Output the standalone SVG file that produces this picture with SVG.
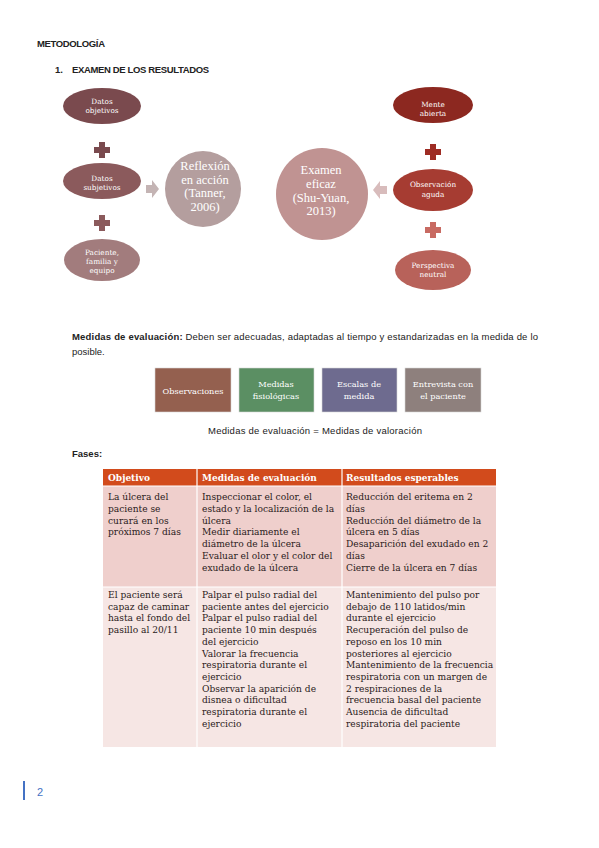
<svg xmlns="http://www.w3.org/2000/svg" width="599" height="848" viewBox="0 0 599 848">
<style>
.h{font-family:"Liberation Sans",Arial,sans-serif;font-weight:bold;font-size:9.5px;fill:#222}
.b{font-family:"Liberation Sans",Arial,sans-serif;font-size:9.5px;fill:#222}
.s{font-family:"DejaVu Serif",serif;fill:#fff;text-anchor:middle}
.e{font-size:7.3px}
.c{font-family:"Liberation Serif",serif;font-size:12.5px}
.m{font-size:8.2px}
.t{font-family:"DejaVu Serif",serif;font-size:9.1px;fill:#2a2020}
.th{font-family:"DejaVu Serif",serif;font-size:9px;font-weight:bold;fill:#fff}
</style>
<defs>
<path id="plus" d="M-3,-8 H3 V-3 H8 V3 H3 V8 H-3 V3 H-8 V-3 H-3 Z"/>
</defs>
<rect width="599" height="848" fill="#fff"/>
<text class="h" x="37" y="47" textLength="68">METODOLOGÍA</text>
<text class="h" x="55" y="73">1.</text>
<text class="h" x="72" y="73" textLength="137">EXAMEN DE LOS RESULTADOS</text>

<g id="connectors">
<use href="#plus" x="102" y="150" fill="#7a4a4e"/>
<use href="#plus" x="102" y="223" fill="#8b5a5c"/>
<use href="#plus" x="433" y="152" fill="#9e2c24"/>
<use href="#plus" x="433" y="230" fill="#c86a62"/>
<path d="M146,185 H152 V180 L159,189 L152,198 V193 H146 Z" fill="#c4b4b4"/>
<path d="M387,186 H380 V181 L373,190 L380,199 V194 H387 Z" fill="#d8bcbc"/>
</g>

<g id="datos-objetivos"><ellipse cx="102" cy="106" rx="39" ry="18" fill="#7a4a4e"/><text class="s e" x="102" y="104">Datos</text><text class="s e" x="102" y="113">objetivos</text></g>
<g id="datos-subjetivos"><ellipse cx="102" cy="181" rx="39" ry="18" fill="#8b5a5c"/><text class="s e" x="102" y="181">Datos</text><text class="s e" x="102" y="190">subjetivos</text></g>
<g id="paciente"><ellipse cx="102" cy="260" rx="38" ry="21" fill="#a27c7d"/><text class="s e" x="102" y="255">Paciente,</text><text class="s e" x="102" y="264">familia y</text><text class="s e" x="102" y="273">equipo</text></g>
<g id="reflexion"><circle cx="203" cy="189" r="38" fill="#b49e9e"/><text class="s c" x="205" y="170">Reflexión</text><text class="s c" x="205" y="183.5">en acción</text><text class="s c" x="205" y="197">(Tanner,</text><text class="s c" x="205" y="210.5">2006)</text></g>
<g id="examen"><circle cx="322" cy="194" r="46" fill="#c09392"/><text class="s c" x="321" y="174">Examen</text><text class="s c" x="321" y="188">eficaz</text><text class="s c" x="321" y="202">(Shu-Yuan,</text><text class="s c" x="321" y="215">2013)</text></g>
<g id="mente"><ellipse cx="433" cy="105" rx="40" ry="18" fill="#8c2820"/><text class="s e" x="433" y="107">Mente</text><text class="s e" x="433" y="116">abierta</text></g>
<g id="observacion"><ellipse cx="433" cy="190" rx="40" ry="21" fill="#a63c32"/><text class="s e" x="433" y="187">Observación</text><text class="s e" x="433" y="197">aguda</text></g>
<g id="perspectiva"><ellipse cx="433" cy="270" rx="38" ry="20" fill="#b8625a"/><text class="s e" x="433" y="268">Perspectiva</text><text class="s e" x="433" y="277">neutral</text></g>

<text class="b" x="72" y="340" textLength="466"><tspan font-weight="bold">Medidas de evaluación:</tspan> Deben ser adecuadas, adaptadas al tiempo y estandarizadas en la medida de lo</text>
<text class="b" x="72" y="355">posible.</text>

<g id="observaciones"><rect x="155" y="368" width="76" height="44" fill="#94604f" stroke="#d8d8d8" stroke-width="0.6"/><text class="s m" x="193" y="394">Observaciones</text></g>
<g id="fisiologicas"><rect x="239" y="368" width="75" height="44" fill="#5b8f63" stroke="#d8d8d8" stroke-width="0.6"/><text class="s m" x="276" y="387">Medidas</text><text class="s m" x="276" y="399">fisiológicas</text></g>
<g id="escalas"><rect x="322" y="368" width="75" height="44" fill="#6e6b8f" stroke="#d8d8d8" stroke-width="0.6"/><text class="s m" x="359" y="387">Escalas de</text><text class="s m" x="359" y="399">medida</text></g>
<g id="entrevista"><rect x="405" y="368" width="76" height="44" fill="#8e807d" stroke="#d8d8d8" stroke-width="0.6"/><text class="s m" x="443" y="387">Entrevista con</text><text class="s m" x="443" y="399">el paciente</text></g>

<text class="b" x="208" y="434" textLength="214">Medidas de evaluación = Medidas de valoración</text>
<text class="h" x="72" y="457">Fases:</text>

<g id="tabla">
<rect x="103" y="469" width="393" height="17" fill="#d24b1c"/>
<rect x="103" y="486" width="393" height="101" fill="#efcfcc"/>
<rect x="103" y="587" width="393" height="160" fill="#f6e6e4"/>
<g stroke="#fff" stroke-width="1.2">
<line x1="197" y1="469" x2="197" y2="747"/>
<line x1="342" y1="469" x2="342" y2="747"/>
<line x1="103" y1="486" x2="496" y2="486"/>
<line x1="103" y1="587" x2="496" y2="587"/>
</g>
<text class="th" x="108" y="481">Objetivo</text>
<text class="th" x="202" y="481">Medidas de evaluación</text>
<text class="th" x="346" y="481">Resultados esperables</text>
<text class="t" x="108" y="500"><tspan x="108">La úlcera del</tspan><tspan x="108" dy="11.8">paciente se</tspan><tspan x="108" dy="11.8">curará en los</tspan><tspan x="108" dy="11.8">próximos 7 días</tspan></text>
<text class="t" x="202" y="500"><tspan x="202">Inspeccionar el color, el</tspan><tspan x="202" dy="11.8">estado y la localización de la</tspan><tspan x="202" dy="11.8">úlcera</tspan><tspan x="202" dy="11.8">Medir diariamente el</tspan><tspan x="202" dy="11.8">diámetro de la úlcera</tspan><tspan x="202" dy="11.8">Evaluar el olor y el color del</tspan><tspan x="202" dy="11.8">exudado de la úlcera</tspan></text>
<text class="t" x="346" y="500"><tspan x="346">Reducción del eritema en 2</tspan><tspan x="346" dy="11.8">días</tspan><tspan x="346" dy="11.8">Reducción del diámetro de la</tspan><tspan x="346" dy="11.8">úlcera en 5 días</tspan><tspan x="346" dy="11.8">Desaparición del exudado en 2</tspan><tspan x="346" dy="11.8">días</tspan><tspan x="346" dy="11.8">Cierre de la úlcera en 7 días</tspan></text>
<text class="t" x="108" y="598"><tspan x="108">El paciente será</tspan><tspan x="108" dy="11.7">capaz de caminar</tspan><tspan x="108" dy="11.7">hasta el fondo del</tspan><tspan x="108" dy="11.7">pasillo al 20/11</tspan></text>
<text class="t" x="202" y="598"><tspan x="202">Palpar el pulso radial del</tspan><tspan x="202" dy="11.7">paciente antes del ejercicio</tspan><tspan x="202" dy="11.7">Palpar el pulso radial del</tspan><tspan x="202" dy="11.7">paciente 10 min después</tspan><tspan x="202" dy="11.7">del ejercicio</tspan><tspan x="202" dy="11.7">Valorar la frecuencia</tspan><tspan x="202" dy="11.7">respiratoria durante el</tspan><tspan x="202" dy="11.7">ejercicio</tspan><tspan x="202" dy="11.7">Observar la aparición de</tspan><tspan x="202" dy="11.7">disnea o dificultad</tspan><tspan x="202" dy="11.7">respiratoria durante el</tspan><tspan x="202" dy="11.7">ejercicio</tspan></text>
<text class="t" x="346" y="598"><tspan x="346">Mantenimiento del pulso por</tspan><tspan x="346" dy="11.7">debajo de 110 latidos/min</tspan><tspan x="346" dy="11.7">durante el ejercicio</tspan><tspan x="346" dy="11.7">Recuperación del pulso de</tspan><tspan x="346" dy="11.7">reposo en los 10 min</tspan><tspan x="346" dy="11.7">posteriores al ejercicio</tspan><tspan x="346" dy="11.7">Mantenimiento de la frecuencia</tspan><tspan x="346" dy="11.7">respiratoria con un margen de</tspan><tspan x="346" dy="11.7">2 respiraciones de la</tspan><tspan x="346" dy="11.7">frecuencia basal del paciente</tspan><tspan x="346" dy="11.7">Ausencia de dificultad</tspan><tspan x="346" dy="11.7">respiratoria del paciente</tspan></text>
</g>

<rect x="23" y="781" width="2" height="19" fill="#4472c4"/>
<text x="37" y="796" font-family="Liberation Sans, Arial, sans-serif" font-size="11" fill="#4472c4">2</text>
</svg>
